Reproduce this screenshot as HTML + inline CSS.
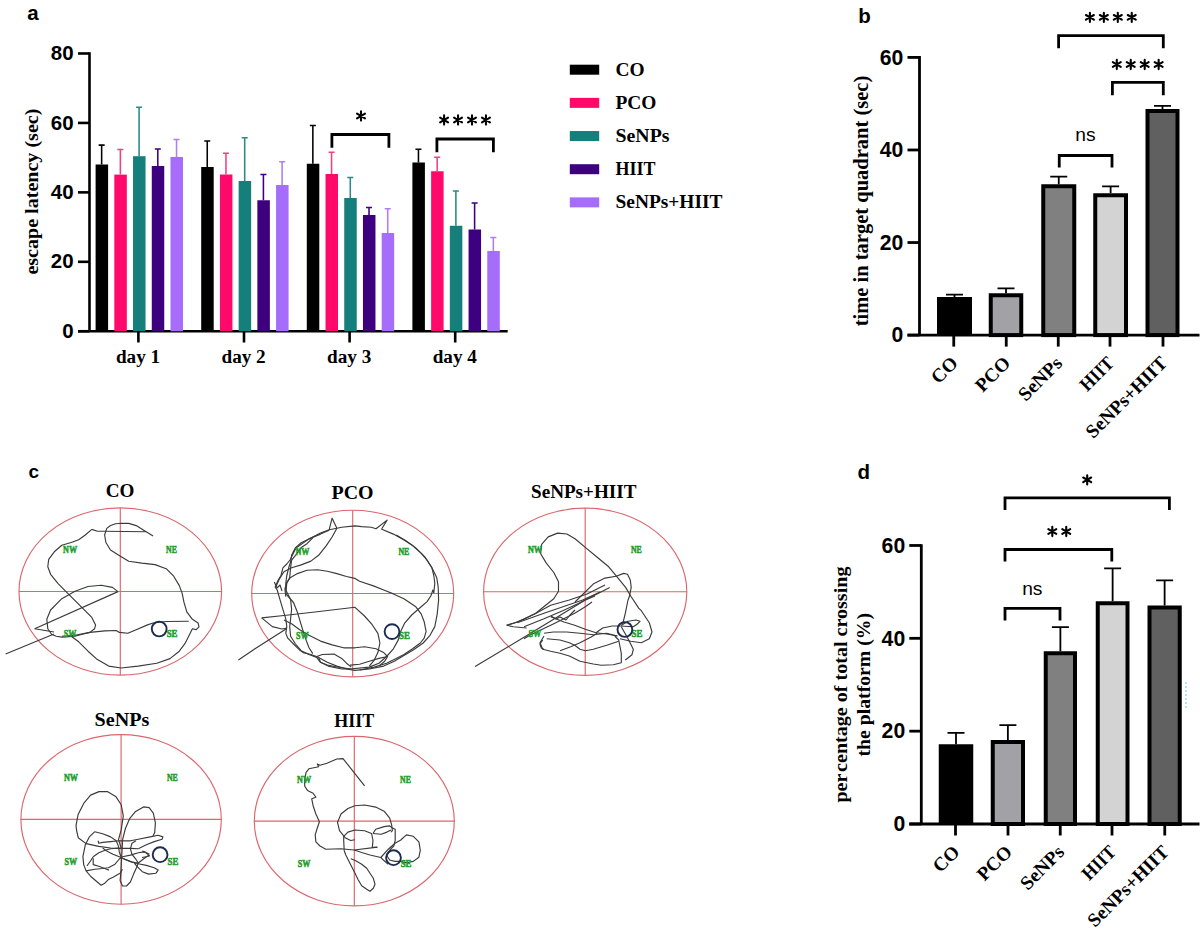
<!DOCTYPE html>
<html><head><meta charset="utf-8"><style>
html,body{margin:0;padding:0;background:#fff;}
svg{display:block;}
</style></head><body>
<svg width="1200" height="934" viewBox="0 0 1200 934">
<rect width="1200" height="934" fill="#fff"/>
<text x="27.3" y="19.7" font-family="Liberation Sans" font-weight="bold" font-size="20.5">a</text>
<text x="858.3" y="22.5" font-family="Liberation Sans" font-weight="bold" font-size="20.5">b</text>
<text x="28.5" y="477.7" font-family="Liberation Sans" font-weight="bold" font-size="19">c</text>
<text x="857.5" y="479.4" font-family="Liberation Sans" font-weight="bold" font-size="20.5">d</text>
<path d="M89.5,52.24000000000001 V331.25" stroke="#000" stroke-width="2.6" fill="none"/>
<path d="M78,331.25 H89.5" stroke="#000" stroke-width="2.6"/>
<text x="73.6" y="337.85" font-family="Liberation Sans" font-weight="bold" font-size="20.5" text-anchor="end">0</text>
<path d="M78,261.81 H89.5" stroke="#000" stroke-width="2.6"/>
<text x="73.6" y="268.41" font-family="Liberation Sans" font-weight="bold" font-size="20.5" text-anchor="end">20</text>
<path d="M78,192.37 H89.5" stroke="#000" stroke-width="2.6"/>
<text x="73.6" y="198.97" font-family="Liberation Sans" font-weight="bold" font-size="20.5" text-anchor="end">40</text>
<path d="M78,122.93 H89.5" stroke="#000" stroke-width="2.6"/>
<text x="73.6" y="129.53" font-family="Liberation Sans" font-weight="bold" font-size="20.5" text-anchor="end">60</text>
<path d="M78,53.49 H89.5" stroke="#000" stroke-width="2.6"/>
<text x="73.6" y="60.09" font-family="Liberation Sans" font-weight="bold" font-size="20.5" text-anchor="end">80</text>
<path d="M78,331.25 H507.7" stroke="#000" stroke-width="2.6"/>
<rect x="95.60" y="164.5" width="12.5" height="166.75" fill="#000000"/>
<path d="M101.65,164.5 V144.6 M98.65,145.1 H104.65" stroke="#000000" stroke-width="1.55" fill="none"/>
<rect x="114.32" y="174.6" width="12.5" height="156.65" fill="#FF0A6A"/>
<path d="M120.37,174.6 V149 M117.37,149.5 H123.37" stroke="#F0407F" stroke-width="1.55" fill="none"/>
<rect x="133.04" y="156.2" width="12.5" height="175.05" fill="#157F7C"/>
<path d="M139.09,156.2 V106.8 M136.09,107.3 H142.09" stroke="#2A8A87" stroke-width="1.55" fill="none"/>
<rect x="151.76" y="166" width="12.5" height="165.25" fill="#3D007E"/>
<path d="M157.81,166 V148.5 M154.81,149.0 H160.81" stroke="#3D007E" stroke-width="1.55" fill="none"/>
<rect x="170.48" y="157" width="12.5" height="174.25" fill="#A66CFA"/>
<path d="M176.53,157 V139 M173.53,139.5 H179.53" stroke="#B07CF8" stroke-width="1.55" fill="none"/>
<path d="M138.40,331.25 V342.5" stroke="#000" stroke-width="2.6"/>
<text x="138.00" y="362.7" font-family="Liberation Serif" font-weight="bold" font-size="19.2" text-anchor="middle">day 1</text>
<rect x="201.20" y="167" width="12.5" height="164.25" fill="#000000"/>
<path d="M207.25,167 V140.5 M204.25,141.0 H210.25" stroke="#000000" stroke-width="1.55" fill="none"/>
<rect x="219.92" y="174.5" width="12.5" height="156.75" fill="#FF0A6A"/>
<path d="M225.97,174.5 V152.75 M222.97,153.25 H228.97" stroke="#F0407F" stroke-width="1.55" fill="none"/>
<rect x="238.64" y="181" width="12.5" height="150.25" fill="#157F7C"/>
<path d="M244.69,181 V137.25 M241.69,137.75 H247.69" stroke="#2A8A87" stroke-width="1.55" fill="none"/>
<rect x="257.36" y="200.25" width="12.5" height="131.00" fill="#3D007E"/>
<path d="M263.41,200.25 V174 M260.41,174.5 H266.41" stroke="#3D007E" stroke-width="1.55" fill="none"/>
<rect x="276.08" y="185" width="12.5" height="146.25" fill="#A66CFA"/>
<path d="M282.13,185 V161.25 M279.13,161.75 H285.13" stroke="#B07CF8" stroke-width="1.55" fill="none"/>
<path d="M244.00,331.25 V342.5" stroke="#000" stroke-width="2.6"/>
<text x="243.60" y="362.7" font-family="Liberation Serif" font-weight="bold" font-size="19.2" text-anchor="middle">day 2</text>
<rect x="306.80" y="163.75" width="12.5" height="167.50" fill="#000000"/>
<path d="M312.85,163.75 V125 M309.85,125.5 H315.85" stroke="#000000" stroke-width="1.55" fill="none"/>
<rect x="325.52" y="174" width="12.5" height="157.25" fill="#FF0A6A"/>
<path d="M331.57,174 V151.75 M328.57,152.25 H334.57" stroke="#F0407F" stroke-width="1.55" fill="none"/>
<rect x="344.24" y="198" width="12.5" height="133.25" fill="#157F7C"/>
<path d="M350.29,198 V177 M347.29,177.5 H353.29" stroke="#2A8A87" stroke-width="1.55" fill="none"/>
<rect x="362.96" y="215" width="12.5" height="116.25" fill="#3D007E"/>
<path d="M369.01,215 V207 M366.01,207.5 H372.01" stroke="#3D007E" stroke-width="1.55" fill="none"/>
<rect x="381.68" y="233" width="12.5" height="98.25" fill="#A66CFA"/>
<path d="M387.73,233 V208.25 M384.73,208.75 H390.73" stroke="#B07CF8" stroke-width="1.55" fill="none"/>
<path d="M349.60,331.25 V342.5" stroke="#000" stroke-width="2.6"/>
<text x="349.20" y="362.7" font-family="Liberation Serif" font-weight="bold" font-size="19.2" text-anchor="middle">day 3</text>
<rect x="412.40" y="162.5" width="12.5" height="168.75" fill="#000000"/>
<path d="M418.45,162.5 V148.75 M415.45,149.25 H421.45" stroke="#000000" stroke-width="1.55" fill="none"/>
<rect x="431.12" y="171.25" width="12.5" height="160.00" fill="#FF0A6A"/>
<path d="M437.17,171.25 V156.75 M434.17,157.25 H440.17" stroke="#F0407F" stroke-width="1.55" fill="none"/>
<rect x="449.84" y="225.75" width="12.5" height="105.50" fill="#157F7C"/>
<path d="M455.89,225.75 V190.5 M452.89,191.0 H458.89" stroke="#2A8A87" stroke-width="1.55" fill="none"/>
<rect x="468.56" y="229.5" width="12.5" height="101.75" fill="#3D007E"/>
<path d="M474.61,229.5 V202.5 M471.61,203.0 H477.61" stroke="#3D007E" stroke-width="1.55" fill="none"/>
<rect x="487.28" y="251" width="12.5" height="80.25" fill="#A66CFA"/>
<path d="M493.33,251 V237 M490.33,237.5 H496.33" stroke="#B07CF8" stroke-width="1.55" fill="none"/>
<path d="M455.20,331.25 V342.5" stroke="#000" stroke-width="2.6"/>
<text x="454.80" y="362.7" font-family="Liberation Serif" font-weight="bold" font-size="19.2" text-anchor="middle">day 4</text>
<text transform="translate(37.8,191.6) rotate(-90)" font-family="Liberation Serif" font-weight="bold" font-size="18.3" text-anchor="middle" textLength="166" lengthAdjust="spacingAndGlyphs">escape latency (sec)</text>
<path d="M331.9,147.7 V134.5 H388.9 V147.7" stroke="#000" stroke-width="2.8" fill="none"/>
<path d="M361.00,111.40V120.60M357.02,113.70L364.98,118.30M357.02,118.30L364.98,113.70" stroke="#000" stroke-width="2.1" stroke-linecap="round" fill="none"/>
<path d="M436.9,152.2 V139 H493.4 V152.2" stroke="#000" stroke-width="2.8" fill="none"/>
<path d="M444.10,115.40V124.60M440.12,117.70L448.08,122.30M440.12,122.30L448.08,117.70M458.05,115.40V124.60M454.07,117.70L462.03,122.30M454.07,122.30L462.03,117.70M472.00,115.40V124.60M468.02,117.70L475.98,122.30M468.02,122.30L475.98,117.70M485.95,115.40V124.60M481.97,117.70L489.93,122.30M481.97,122.30L489.93,117.70" stroke="#000" stroke-width="2.1" stroke-linecap="round" fill="none"/>
<rect x="569.8" y="64.70" width="29.4" height="10" fill="#000000"/>
<text x="615.5" y="75.60" font-family="Liberation Serif" font-weight="bold" font-size="19.4">CO</text>
<rect x="569.8" y="97.87" width="29.4" height="10" fill="#FF0A6A"/>
<text x="615.5" y="108.77" font-family="Liberation Serif" font-weight="bold" font-size="19.4">PCO</text>
<rect x="569.8" y="131.04" width="29.4" height="10" fill="#157F7C"/>
<text x="615.5" y="141.94" font-family="Liberation Serif" font-weight="bold" font-size="19.4" textLength="54" lengthAdjust="spacingAndGlyphs">SeNPs</text>
<rect x="569.8" y="164.21" width="29.4" height="10" fill="#3D007E"/>
<text x="615.5" y="175.11" font-family="Liberation Serif" font-weight="bold" font-size="19.4" textLength="39.9" lengthAdjust="spacingAndGlyphs">HIIT</text>
<rect x="569.8" y="197.38" width="29.4" height="10" fill="#A66CFA"/>
<text x="615.5" y="208.28" font-family="Liberation Serif" font-weight="bold" font-size="19.4">SeNPs+HIIT</text>
<path d="M954.50,297 V293.75 M946.00,294.65 H963.00" stroke="#000" stroke-width="1.8" fill="none"/>
<rect x="937" y="297" width="35.00" height="38.10" fill="#000"/>
<path d="M1006.00,293.25 V287.5 M997.50,288.4 H1014.50" stroke="#000" stroke-width="1.8" fill="none"/>
<rect x="990.75" y="295.25" width="30.50" height="39.85" fill="#A1A1A6" stroke="#000" stroke-width="4"/>
<path d="M1058.75,184.25 V175.75 M1050.25,176.65 H1067.25" stroke="#000" stroke-width="1.8" fill="none"/>
<rect x="1043.25" y="186.25" width="31.00" height="148.85" fill="#808080" stroke="#000" stroke-width="4"/>
<path d="M1110.62,193.25 V185.5 M1102.12,186.4 H1119.12" stroke="#000" stroke-width="1.8" fill="none"/>
<rect x="1095.25" y="195.25" width="30.75" height="139.85" fill="#D3D3D3" stroke="#000" stroke-width="4"/>
<path d="M1162.50,109 V105 M1154.00,105.9 H1171.00" stroke="#000" stroke-width="1.8" fill="none"/>
<rect x="1147.50" y="111.00" width="30.00" height="224.10" fill="#606060" stroke="#000" stroke-width="4"/>
<path d="M919.5,56.12 V335.1" stroke="#000" stroke-width="2.8" fill="none"/>
<path d="M907.5,335.1 H1199.5" stroke="#000" stroke-width="2.8" fill="none"/>
<path d="M907.5,335.10 H919.5" stroke="#000" stroke-width="2.8"/>
<text x="903.40" y="342.30" font-family="Liberation Sans" font-weight="bold" font-size="21.2" text-anchor="end">0</text>
<path d="M907.5,242.54 H919.5" stroke="#000" stroke-width="2.8"/>
<text x="903.40" y="249.74" font-family="Liberation Sans" font-weight="bold" font-size="21.2" text-anchor="end">20</text>
<path d="M907.5,149.98 H919.5" stroke="#000" stroke-width="2.8"/>
<text x="903.40" y="157.18" font-family="Liberation Sans" font-weight="bold" font-size="21.2" text-anchor="end">40</text>
<path d="M907.5,57.42 H919.5" stroke="#000" stroke-width="2.8"/>
<text x="903.40" y="64.62" font-family="Liberation Sans" font-weight="bold" font-size="21.2" text-anchor="end">60</text>
<path d="M953.75,335.1 V346.6" stroke="#000" stroke-width="2.8"/>
<text transform="translate(958.95,364.3) rotate(-45)" font-family="Liberation Serif" font-weight="bold" font-size="19.2" text-anchor="end">CO</text>
<path d="M1006.25,335.1 V346.6" stroke="#000" stroke-width="2.8"/>
<text transform="translate(1011.45,364.3) rotate(-45)" font-family="Liberation Serif" font-weight="bold" font-size="19.2" text-anchor="end">PCO</text>
<path d="M1058.25,335.1 V346.6" stroke="#000" stroke-width="2.8"/>
<text transform="translate(1063.45,364.3) rotate(-45)" font-family="Liberation Serif" font-weight="bold" font-size="19.2" text-anchor="end" textLength="53.4" lengthAdjust="spacingAndGlyphs">SeNPs</text>
<path d="M1110,335.1 V346.6" stroke="#000" stroke-width="2.8"/>
<text transform="translate(1115.2,364.3) rotate(-45)" font-family="Liberation Serif" font-weight="bold" font-size="19.2" text-anchor="end" textLength="39.5" lengthAdjust="spacingAndGlyphs">HIIT</text>
<path d="M1163,335.1 V346.6" stroke="#000" stroke-width="2.8"/>
<text transform="translate(1168.2,364.3) rotate(-45)" font-family="Liberation Serif" font-weight="bold" font-size="19.2" text-anchor="end">SeNPs+HIIT</text>
<text transform="translate(868,201) rotate(-90)" font-family="Liberation Serif" font-weight="bold" font-size="20.5" text-anchor="middle">time in target quadrant (sec)</text>
<path d="M1058.6,48.2 V35.6 H1163.3 V48.2" stroke="#000" stroke-width="2.8" fill="none"/>
<path d="M1089.90,12.70V21.90M1085.92,15.00L1093.88,19.60M1085.92,19.60L1093.88,15.00M1103.85,12.70V21.90M1099.87,15.00L1107.83,19.60M1099.87,19.60L1107.83,15.00M1117.80,12.70V21.90M1113.82,15.00L1121.78,19.60M1113.82,19.60L1121.78,15.00M1131.75,12.70V21.90M1127.77,15.00L1135.73,19.60M1127.77,19.60L1135.73,15.00" stroke="#000" stroke-width="2.1" stroke-linecap="round" fill="none"/>
<path d="M1112.4,95.3 V82.4 H1163.3 V95.3" stroke="#000" stroke-width="2.8" fill="none"/>
<path d="M1116.80,59.90V69.10M1112.82,62.20L1120.78,66.80M1112.82,66.80L1120.78,62.20M1130.75,59.90V69.10M1126.77,62.20L1134.73,66.80M1126.77,66.80L1134.73,62.20M1144.70,59.90V69.10M1140.72,62.20L1148.68,66.80M1140.72,66.80L1148.68,62.20M1158.65,59.90V69.10M1154.67,62.20L1162.63,66.80M1154.67,66.80L1162.63,62.20" stroke="#000" stroke-width="2.1" stroke-linecap="round" fill="none"/>
<path d="M1059.25,167.5 V155.5 H1112 V167.5" stroke="#000" stroke-width="2.8" fill="none"/>
<text x="1085.5" y="141" font-family="Liberation Sans" font-size="19.2" text-anchor="middle">ns</text>
<path d="M956.00,744.25 V732 M947.50,732.9 H964.50" stroke="#000" stroke-width="1.8" fill="none"/>
<rect x="938.75" y="744.25" width="34.50" height="79.75" fill="#000"/>
<path d="M1007.88,740 V724.25 M999.38,725.15 H1016.38" stroke="#000" stroke-width="1.8" fill="none"/>
<rect x="992.75" y="742.00" width="30.25" height="82.00" fill="#A1A1A6" stroke="#000" stroke-width="4"/>
<path d="M1060.38,651.25 V626.25 M1051.88,627.15 H1068.88" stroke="#000" stroke-width="1.8" fill="none"/>
<rect x="1045.75" y="653.25" width="29.25" height="170.75" fill="#808080" stroke="#000" stroke-width="4"/>
<path d="M1112.62,601.25 V567.5 M1104.12,568.4 H1121.12" stroke="#000" stroke-width="1.8" fill="none"/>
<rect x="1097.75" y="603.25" width="29.75" height="220.75" fill="#D3D3D3" stroke="#000" stroke-width="4"/>
<path d="M1164.62,605.5 V579.5 M1156.12,580.4 H1173.12" stroke="#000" stroke-width="1.8" fill="none"/>
<rect x="1149.50" y="607.50" width="30.25" height="216.50" fill="#606060" stroke="#000" stroke-width="4"/>
<path d="M921.3,544.18 V824.0" stroke="#000" stroke-width="2.8" fill="none"/>
<path d="M909.3,824.0 H1199.5" stroke="#000" stroke-width="2.8" fill="none"/>
<path d="M909.3,824.00 H921.3" stroke="#000" stroke-width="2.8"/>
<text x="905.20" y="831.20" font-family="Liberation Sans" font-weight="bold" font-size="21.2" text-anchor="end">0</text>
<path d="M909.3,731.16 H921.3" stroke="#000" stroke-width="2.8"/>
<text x="905.20" y="738.36" font-family="Liberation Sans" font-weight="bold" font-size="21.2" text-anchor="end">20</text>
<path d="M909.3,638.32 H921.3" stroke="#000" stroke-width="2.8"/>
<text x="905.20" y="645.52" font-family="Liberation Sans" font-weight="bold" font-size="21.2" text-anchor="end">40</text>
<path d="M909.3,545.48 H921.3" stroke="#000" stroke-width="2.8"/>
<text x="905.20" y="552.68" font-family="Liberation Sans" font-weight="bold" font-size="21.2" text-anchor="end">60</text>
<path d="M955.5,824.0 V835.5" stroke="#000" stroke-width="2.8"/>
<text transform="translate(960.7,853.2) rotate(-45)" font-family="Liberation Serif" font-weight="bold" font-size="19.2" text-anchor="end">CO</text>
<path d="M1008,824.0 V835.5" stroke="#000" stroke-width="2.8"/>
<text transform="translate(1013.2,853.2) rotate(-45)" font-family="Liberation Serif" font-weight="bold" font-size="19.2" text-anchor="end">PCO</text>
<path d="M1060.25,824.0 V835.5" stroke="#000" stroke-width="2.8"/>
<text transform="translate(1065.45,853.2) rotate(-45)" font-family="Liberation Serif" font-weight="bold" font-size="19.2" text-anchor="end" textLength="53.4" lengthAdjust="spacingAndGlyphs">SeNPs</text>
<path d="M1112,824.0 V835.5" stroke="#000" stroke-width="2.8"/>
<text transform="translate(1117.2,853.2) rotate(-45)" font-family="Liberation Serif" font-weight="bold" font-size="19.2" text-anchor="end" textLength="39.5" lengthAdjust="spacingAndGlyphs">HIIT</text>
<path d="M1164.75,824.0 V835.5" stroke="#000" stroke-width="2.8"/>
<text transform="translate(1169.95,853.2) rotate(-45)" font-family="Liberation Serif" font-weight="bold" font-size="19.2" text-anchor="end">SeNPs+HIIT</text>
<text transform="translate(847.3,684.6) rotate(-90)" font-family="Liberation Serif" font-weight="bold" font-size="18.4" text-anchor="middle" textLength="236" lengthAdjust="spacingAndGlyphs">per&#8202;centage of total crossing</text>
<text transform="translate(870.2,684.7) rotate(-90)" font-family="Liberation Serif" font-weight="bold" font-size="19.8" text-anchor="middle" textLength="143.5" lengthAdjust="spacingAndGlyphs">the platform (%)</text>
<path d="M1005,509.9 V497.9 H1169.4 V509.9" stroke="#000" stroke-width="2.8" fill="none"/>
<path d="M1087.20,475.20V484.40M1083.22,477.50L1091.18,482.10M1083.22,482.10L1091.18,477.50" stroke="#000" stroke-width="2.1" stroke-linecap="round" fill="none"/>
<path d="M1005,561.5 V549.5 H1111.8 V561.5" stroke="#000" stroke-width="2.8" fill="none"/>
<path d="M1052.30,526.90V536.10M1048.32,529.20L1056.28,533.80M1048.32,533.80L1056.28,529.20M1066.25,526.90V536.10M1062.27,529.20L1070.23,533.80M1062.27,533.80L1070.23,529.20" stroke="#000" stroke-width="2.1" stroke-linecap="round" fill="none"/>
<path d="M1005,620.6 V608.4 H1060 V620.6" stroke="#000" stroke-width="2.8" fill="none"/>
<text x="1032.3" y="595.4" font-family="Liberation Sans" font-size="19.2" text-anchor="middle">ns</text>
<path d="M1186,682 V710" stroke="#4fd6e6" stroke-width="1" stroke-dasharray="2,2"/>
<ellipse cx="120.3" cy="591.5" rx="101.3" ry="83.6" fill="none" stroke="#DC666D" stroke-width="1.15"/>
<path d="M19.0,591.5 H221.6 M120.3,507.9 V675.1" stroke="#DC666D" stroke-width="1.15"/>
<path d="M5.6,654.0 L54.0,634.0" stroke="#3a3a3a" stroke-width="1.15" fill="none" stroke-linejoin="round"/>
<path d="M34.7,628.7 L118.0,591.6" stroke="#3a3a3a" stroke-width="1.15" fill="none" stroke-linejoin="round"/>
<path d="M34.7,628.7 L54.0,632.0" stroke="#3a3a3a" stroke-width="1.15" fill="none" stroke-linejoin="round"/>
<path d="M118.0,591.6 L112.4,587.4 L101.2,585.2 L88.0,586.5 L75.0,591.2 L61.8,598.7 L50.6,610.0 L46.8,619.3 L47.8,628.7 L51.5,634.3 L56.2,636.2 L61.8,637.1" stroke="#3a3a3a" stroke-width="1.15" fill="none" stroke-linejoin="round"/>
<path d="M91.8,529.4 L85.3,535.0 L78.7,539.7 L71.2,542.5 L61.8,545.3 L54.3,551.8 L48.7,559.3 L47.8,566.8 L50.6,574.3 L58.1,583.7 L67.5,593.1 L76.8,602.4 L84.3,609.9 L91.8,617.4 L95.6,624.9 L94.6,628.7 L89.9,632.4 L82.4,634.3 L74.9,636.2 L61.8,637.1" stroke="#3a3a3a" stroke-width="1.15" fill="none" stroke-linejoin="round"/>
<path d="M91.8,529.4 L97.4,531.2 L104.9,531.2 L145.6,531.8" stroke="#3a3a3a" stroke-width="1.15" fill="none" stroke-linejoin="round"/>
<path d="M153.1,535.9 L143.7,530.3 L136.2,525.6 L128.7,523.4 L121.2,523.2 L115.6,523.7 L110.5,525.5 L106.8,528.4 L104.6,535.0 L105.9,542.5 L110.5,550.0 L118.0,554.7 L128.7,561.2 L141.9,563.1 L155.0,564.6 L166.2,568.7 L173.7,576.2 L179.3,585.6 L182.1,593.1 L184.0,602.4 L186.8,611.8 L192.4,619.3 L198.1,623.0 L199.0,626.8 L196.2,629.6 L192.4,628.7 L188.7,636.2 L184.9,643.7 L179.3,651.2 L170.0,658.6 L156.8,663.3 L138.1,666.1 L121.2,668.0 L108.7,666.1 L97.4,659.6 L88.0,651.2 L78.7,641.8 L71.2,636.2" stroke="#3a3a3a" stroke-width="1.15" fill="none" stroke-linejoin="round"/>
<path d="M61.8,636.2 L74.9,635.2 L89.9,632.4 L104.9,630.9 L116.2,630.5 L119.4,632.4 L127.8,633.3 L134.4,630.5 L147.5,624.9 L153.1,623.0 L166.2,621.5 L188.7,621.2" stroke="#3a3a3a" stroke-width="1.15" fill="none" stroke-linejoin="round"/>
<text x="63.10" y="552.90" font-family="Liberation Serif" font-weight="bold" font-size="10" fill="#1E9E2A" stroke="#1E9E2A" stroke-width="0.55" textLength="14" lengthAdjust="spacingAndGlyphs">NW</text>
<text x="166.10" y="552.90" font-family="Liberation Serif" font-weight="bold" font-size="10" fill="#1E9E2A" stroke="#1E9E2A" stroke-width="0.55" textLength="10.8" lengthAdjust="spacingAndGlyphs">NE</text>
<text x="63.70" y="637.10" font-family="Liberation Serif" font-weight="bold" font-size="10" fill="#1E9E2A" stroke="#1E9E2A" stroke-width="0.55" textLength="12.6" lengthAdjust="spacingAndGlyphs">SW</text>
<text x="166.70" y="637.10" font-family="Liberation Serif" font-weight="bold" font-size="10" fill="#1E9E2A" stroke="#1E9E2A" stroke-width="0.55" textLength="10.8" lengthAdjust="spacingAndGlyphs">SE</text>
<text x="105.75" y="496.6" font-family="Liberation Serif" font-weight="bold" font-size="19.4" textLength="28.7" lengthAdjust="spacingAndGlyphs">CO</text>
<ellipse cx="352.7" cy="593.5" rx="101" ry="83.3" fill="none" stroke="#DC666D" stroke-width="1.15"/>
<path d="M251.7,593.5 H453.7 M352.7,510.2 V676.8" stroke="#DC666D" stroke-width="1.15"/>
<path d="M238.4,660.1 L255.0,648.8 L286.8,628.5" stroke="#3a3a3a" stroke-width="1.15" fill="none" stroke-linejoin="round"/>
<path d="M261.7,617.9 L272.3,626.6 L282.0,629.0 L286.8,628.1" stroke="#3a3a3a" stroke-width="1.15" fill="none" stroke-linejoin="round"/>
<path d="M261.7,617.9 L283.9,615.5 L312.8,612.2 L355.0,607.3 L364.5,616.0 L372.2,624.7 L377.9,633.4 L379.9,643.0 L377.9,652.6 L374.1,660.3 L369.3,666.1" stroke="#3a3a3a" stroke-width="1.15" fill="none" stroke-linejoin="round"/>
<path d="M329.2,529.7 L336.9,528.3 L341.7,527.3 L355.0,525.9 L361.6,526.6 L371.2,527.3 L376.0,528.8 L387.1,520.1 L381.8,528.8 L381.8,529.3 L393.4,534.1 L404.0,539.9 L412.6,545.6 L421.3,553.4 L427.1,560.1 L431.9,567.8 L433.8,575.5 L434.8,583.2 L433.8,592.9 L432.9,590.0 L430.9,595.8 L427.1,601.6 L419.4,608.3 L411.7,615.0 L404.9,622.8 L401.1,630.5 L398.2,640.1 L393.4,648.8 L386.6,656.5 L378.9,663.2 L369.3,667.1 L350.0,669.0 L341.7,669.0 L328.2,666.1 L320.5,662.3 L316.7,657.4 L309.0,654.5 L301.2,650.7 L295.5,644.0 L290.6,636.2 L289.7,626.6 L290.6,618.9 L291.6,609.3 L290.6,599.6 L285.8,590.0 L285.8,583.2 L286.8,575.5 L288.7,567.8 L290.6,562.0 L291.6,555.3 L295.5,547.6 L301.2,542.8 L310.9,537.9 L320.5,533.1 L329.2,529.7 L332.1,518.2 L336.9,528.3" stroke="#3a3a3a" stroke-width="1.15" fill="none" stroke-linejoin="round"/>
<path d="M396.2,535.0 L405.9,540.8 L415.5,547.6 L425.1,557.2 L431.9,567.8 L436.7,577.4 L438.2,587.1 L438.6,600.0 L437.2,614.1 L434.8,626.6 L430.0,635.3 L423.2,643.0 L413.6,649.7 L403.9,655.5 L394.3,661.3 L383.7,666.1 L369.3,669.0 L355.0,670.4 L346.5,669.0 L336.9,666.1 L327.3,662.3 L318.6,657.4 L310.9,654.5 L303.2,652.6 L299.3,649.7 L293.5,644.0 L287.8,638.2 L285.8,633.4 L286.8,626.6 L285.8,618.9 L282.9,609.3 L280.0,599.6 L277.2,590.0 L275.2,587.1 L278.1,580.3 L281.0,575.5 L282.9,567.8 L286.8,564.0 L290.0,560.0 L296.0,548.0 L309.0,538.9 L320.5,534.1 L329.2,530.2" stroke="#3a3a3a" stroke-width="1.15" fill="none" stroke-linejoin="round"/>
<path d="M336.9,528.3 L332.1,537.0 L326.3,545.6 L318.6,555.3 L310.9,561.1 L301.2,564.9 L291.6,567.8 L283.9,571.7 L279.1,579.4 L276.2,586.1" stroke="#3a3a3a" stroke-width="1.15" fill="none" stroke-linejoin="round"/>
<path d="M312.8,537.9 L307.0,543.7 L301.2,547.6 L295.5,555.3 L291.6,560.1 L290.6,567.8 L289.7,577.4 L286.8,583.2 L285.8,592.9 L286.8,594.8 L293.5,602.5 L297.4,612.2 L300.3,621.8 L303.2,631.4 L306.1,640.1 L309.0,647.8 L312.8,653.6" stroke="#3a3a3a" stroke-width="1.15" fill="none" stroke-linejoin="round"/>
<path d="M285.8,596.7 L284.9,589.0 L286.8,582.3 L290.6,577.4 L297.4,573.6 L307.0,570.2 L317.6,569.7 L327.3,571.2 L336.9,573.6 L346.5,576.5 L355.0,578.4 L359.6,581.3 L374.1,586.1 L383.7,590.0 L393.4,593.9 L403.9,598.7 L415.5,606.4 L421.3,614.1 L424.2,621.8 L426.1,631.4 L424.2,638.2 L420.3,643.0 L412.6,648.8 L403.9,654.5 L396.2,658.4 L386.6,663.2 L374.1,667.1 L359.6,670.0" stroke="#3a3a3a" stroke-width="1.15" fill="none" stroke-linejoin="round"/>
<path d="M283.9,619.9 L291.6,623.7 L299.3,629.5 L309.0,635.3 L320.5,641.1 L332.1,644.9 L343.6,647.8 L355.0,647.8 L364.5,646.8 L376.0,648.8 L383.7,652.6 L387.6,656.5 L384.7,661.3 L378.9,666.1" stroke="#3a3a3a" stroke-width="1.15" fill="none" stroke-linejoin="round"/>
<path d="M350.0,665.1 L359.6,664.2 L369.3,661.3 L378.9,658.4 L387.6,656.5" stroke="#3a3a3a" stroke-width="1.15" fill="none" stroke-linejoin="round"/>
<path d="M316.7,656.5 L322.4,654.5 L334.0,654.1 L341.7,658.4 L346.5,663.2 L351.3,667.1" stroke="#3a3a3a" stroke-width="1.15" fill="none" stroke-linejoin="round"/>
<path d="M318.6,657.4 L320.5,662.3 L327.3,665.0 L336.9,667.0 L351.3,669.0" stroke="#3a3a3a" stroke-width="1.15" fill="none" stroke-linejoin="round"/>
<path d="M274.3,582.0 L277.0,588.0 L280.0,585.0 L282.0,591.0" stroke="#3a3a3a" stroke-width="1.15" fill="none" stroke-linejoin="round"/>
<text x="295.50" y="554.90" font-family="Liberation Serif" font-weight="bold" font-size="10" fill="#1E9E2A" stroke="#1E9E2A" stroke-width="0.55" textLength="14" lengthAdjust="spacingAndGlyphs">NW</text>
<text x="398.50" y="554.90" font-family="Liberation Serif" font-weight="bold" font-size="10" fill="#1E9E2A" stroke="#1E9E2A" stroke-width="0.55" textLength="10.8" lengthAdjust="spacingAndGlyphs">NE</text>
<text x="296.10" y="639.10" font-family="Liberation Serif" font-weight="bold" font-size="10" fill="#1E9E2A" stroke="#1E9E2A" stroke-width="0.55" textLength="12.6" lengthAdjust="spacingAndGlyphs">SW</text>
<text x="399.10" y="639.10" font-family="Liberation Serif" font-weight="bold" font-size="10" fill="#1E9E2A" stroke="#1E9E2A" stroke-width="0.55" textLength="10.8" lengthAdjust="spacingAndGlyphs">SE</text>
<text x="331.50" y="498.6" font-family="Liberation Serif" font-weight="bold" font-size="19.4" textLength="42" lengthAdjust="spacingAndGlyphs">PCO</text>
<ellipse cx="585.2" cy="591.7" rx="101.6" ry="83.6" fill="none" stroke="#DC666D" stroke-width="1.15"/>
<path d="M483.6,591.7 H686.8000000000001 M585.2,508.1 V675.3000000000001" stroke="#DC666D" stroke-width="1.15"/>
<path d="M475.1,666.5 L525.7,636.2 L585.3,600.0 L609.7,587.4" stroke="#3a3a3a" stroke-width="1.15" fill="none" stroke-linejoin="round"/>
<path d="M506.7,625.3 L514.5,623.0 L523.8,619.3 L535.1,613.7 L544.4,606.2 L553.8,598.7 L558.5,591.2 L558.5,581.8 L553.8,572.5 L546.3,563.1 L540.7,553.7 L541.6,544.3 L548.2,536.9 L557.6,533.1 L566.9,534.0 L575.0,538.7 L586.2,548.1 L597.5,557.5 L608.7,566.8 L618.1,578.1 L625.6,587.4 L631.2,596.8 L638.7,608.1 L641.3,610.7 L649.3,622.7 L652.0,632.0 L649.3,638.7 L641.3,642.7 L630.7,641.3 L620.0,638.7" stroke="#3a3a3a" stroke-width="1.15" fill="none" stroke-linejoin="round"/>
<path d="M506.7,625.3 L517.3,622.0 L536.0,613.3 L550.7,605.3 L569.3,600.0 L587.0,594.0 L605.0,585.0" stroke="#3a3a3a" stroke-width="1.15" fill="none" stroke-linejoin="round"/>
<path d="M517.3,622.7 L544.0,613.3 L582.7,600.0 L600.0,592.0" stroke="#3a3a3a" stroke-width="1.15" fill="none" stroke-linejoin="round"/>
<path d="M524.0,626.7 L544.0,618.7 L562.7,610.7 L577.3,604.0 L585.3,600.0 L595.0,596.0" stroke="#3a3a3a" stroke-width="1.15" fill="none" stroke-linejoin="round"/>
<path d="M524.0,638.7 L530.7,634.7 L553.3,624.0 L574.7,613.3 L585.3,606.7 L592.0,602.0" stroke="#3a3a3a" stroke-width="1.15" fill="none" stroke-linejoin="round"/>
<path d="M506.7,625.3 L513.3,626.7 L526.7,628.0" stroke="#3a3a3a" stroke-width="1.15" fill="none" stroke-linejoin="round"/>
<path d="M575.0,602.0 L593.7,583.7 L605.0,578.1 L616.2,576.2 L623.7,573.4 L627.5,574.3 L630.3,580.0 L631.2,587.4 L629.3,596.8 L628.0,600.0 L625.3,613.3 L622.7,624.0" stroke="#3a3a3a" stroke-width="1.15" fill="none" stroke-linejoin="round"/>
<path d="M550.7,616.7 L564.0,622.0 L574.7,625.3 L585.3,629.3 L596.0,632.7 L606.7,634.0 L617.3,636.0" stroke="#3a3a3a" stroke-width="1.15" fill="none" stroke-linejoin="round"/>
<path d="M544.0,633.3 L553.3,632.0 L566.7,632.0 L580.0,633.3 L593.3,634.7 L606.7,633.3 L617.3,636.0" stroke="#3a3a3a" stroke-width="1.15" fill="none" stroke-linejoin="round"/>
<path d="M544.0,636.0 L540.0,642.7 L542.7,649.3 L550.7,651.3 L560.0,653.3 L569.3,656.0 L580.0,661.3 L593.3,664.0 L601.3,665.3 L613.3,664.7 L621.3,662.7 L621.3,653.3 L618.7,640.0 L614.7,636.0" stroke="#3a3a3a" stroke-width="1.15" fill="none" stroke-linejoin="round"/>
<path d="M546.7,638.7 L560.0,640.0 L569.3,642.7 L574.7,645.3 L580.0,649.3 L585.3,650.7 L593.3,649.3 L606.7,645.3 L618.7,641.3" stroke="#3a3a3a" stroke-width="1.15" fill="none" stroke-linejoin="round"/>
<path d="M560.0,650.7 L570.7,646.7 L580.0,642.7 L590.7,637.3 L597.3,633.3" stroke="#3a3a3a" stroke-width="1.15" fill="none" stroke-linejoin="round"/>
<path d="M596.0,632.7 L602.7,628.0 L612.0,626.0 L620.0,626.0 L633.3,626.7 L637.3,624.0 L640.0,621.3 L636.0,620.0 L628.0,621.3 L621.3,625.3" stroke="#3a3a3a" stroke-width="1.15" fill="none" stroke-linejoin="round"/>
<path d="M621.3,626.7 L628.0,638.7 L633.3,649.3 L632.0,654.7 L625.3,660.0" stroke="#3a3a3a" stroke-width="1.15" fill="none" stroke-linejoin="round"/>
<path d="M542.7,640.0 L540.0,644.0 L541.3,648.0 L544.0,649.3" stroke="#3a3a3a" stroke-width="1.15" fill="none" stroke-linejoin="round"/>
<path d="M551.0,616.0 L556.0,619.0 L560.0,617.0 L566.0,620.0 L570.0,615.0 L575.0,610.0" stroke="#3a3a3a" stroke-width="1.15" fill="none" stroke-linejoin="round"/>
<text x="528.00" y="553.10" font-family="Liberation Serif" font-weight="bold" font-size="10" fill="#1E9E2A" stroke="#1E9E2A" stroke-width="0.55" textLength="14" lengthAdjust="spacingAndGlyphs">NW</text>
<text x="631.00" y="553.10" font-family="Liberation Serif" font-weight="bold" font-size="10" fill="#1E9E2A" stroke="#1E9E2A" stroke-width="0.55" textLength="10.8" lengthAdjust="spacingAndGlyphs">NE</text>
<text x="528.60" y="637.30" font-family="Liberation Serif" font-weight="bold" font-size="10" fill="#1E9E2A" stroke="#1E9E2A" stroke-width="0.55" textLength="12.6" lengthAdjust="spacingAndGlyphs">SW</text>
<text x="631.60" y="637.30" font-family="Liberation Serif" font-weight="bold" font-size="10" fill="#1E9E2A" stroke="#1E9E2A" stroke-width="0.55" textLength="10.8" lengthAdjust="spacingAndGlyphs">SE</text>
<text x="531.00" y="498.3" font-family="Liberation Serif" font-weight="bold" font-size="19.4" textLength="105.5" lengthAdjust="spacingAndGlyphs">SeNPs+HIIT</text>
<ellipse cx="121.1" cy="819.4" rx="100.2" ry="84.8" fill="none" stroke="#DC666D" stroke-width="1.15"/>
<path d="M20.89999999999999,819.4 H221.3 M121.1,734.6 V904.1999999999999" stroke="#DC666D" stroke-width="1.15"/>
<path d="M121.2,848.0 L118.5,839.6 L121.2,829.9 L123.3,815.9 L121.2,804.8 L115.7,796.4 L107.3,791.6 L99.0,791.6 L90.6,795.1 L83.7,803.4 L78.1,814.5 L76.0,825.7 L76.7,831.0 L78.2,837.7 L86.1,843.6 L98.8,846.4 L110.6,848.0 L119.3,848.4 L130.4,848.4 L138.3,848.8" stroke="#3a3a3a" stroke-width="1.15" fill="none" stroke-linejoin="round"/>
<path d="M122.5,841.6 L122.6,839.6 L125.4,828.5 L129.6,818.7 L135.2,811.8 L143.5,806.9 L149.1,807.6 L153.3,813.2 L155.4,822.9 L154.7,832.6 L153.0,836.0" stroke="#3a3a3a" stroke-width="1.15" fill="none" stroke-linejoin="round"/>
<path d="M94.8,831.7 L89.3,836.9 L85.3,844.8 L82.9,856.7 L83.7,864.6 L86.1,870.9 L90.8,876.5 L96.4,881.2 L101.1,885.2 L104.3,883.6 L108.3,879.6 L113.0,877.3 L120.1,873.3 L122.5,869.3" stroke="#3a3a3a" stroke-width="1.15" fill="none" stroke-linejoin="round"/>
<path d="M94.8,831.7 L102.7,833.7 L110.6,836.9 L116.2,840.8 L118.5,846.4 L119.3,851.9 L120.9,856.7" stroke="#3a3a3a" stroke-width="1.15" fill="none" stroke-linejoin="round"/>
<path d="M98.0,840.8 L98.8,843.2 L102.7,842.4 L110.6,841.6 L119.3,840.8 L130.4,840.8 L138.3,839.3 L150.2,836.9 L158.1,835.3 L162.9,836.9 L162.1,839.3 L154.2,841.6 L146.3,844.8 L138.3,848.8" stroke="#3a3a3a" stroke-width="1.15" fill="none" stroke-linejoin="round"/>
<path d="M122.5,841.6 L121.7,856.7 L120.9,872.5 L120.1,880.4 L122.5,886.0 L126.5,886.0 L130.4,882.0 L133.6,874.1 L136.8,867.0 L138.3,863.0 L135.2,858.3 L132.0,854.3 L130.4,848.8 L132.0,843.2 L136.0,840.8" stroke="#3a3a3a" stroke-width="1.15" fill="none" stroke-linejoin="round"/>
<path d="M122.5,858.3 L130.4,861.4 L138.3,863.8 L146.3,865.4 L154.2,867.8 L158.1,870.1 L155.8,873.3 L148.6,874.1 L142.3,871.7 L136.8,866.2 L133.6,862.2" stroke="#3a3a3a" stroke-width="1.15" fill="none" stroke-linejoin="round"/>
<path d="M93.2,856.7 L98.8,852.7 L105.1,850.3 L110.6,848.8 L119.3,848.0" stroke="#3a3a3a" stroke-width="1.15" fill="none" stroke-linejoin="round"/>
<path d="M86.1,870.9 L94.8,869.3 L102.7,868.5 L108.3,867.8 L114.6,864.6 L119.3,859.0 L122.5,856.7 L130.4,855.1 L138.3,852.7 L144.7,851.9 L149.4,854.3" stroke="#3a3a3a" stroke-width="1.15" fill="none" stroke-linejoin="round"/>
<path d="M93.2,858.3 L93.2,864.6 L98.8,866.2 L106.7,869.3 L109.0,870.1" stroke="#3a3a3a" stroke-width="1.15" fill="none" stroke-linejoin="round"/>
<path d="M102.7,848.0 L106.7,851.1 L113.0,854.3 L119.3,856.7 L125.7,859.8 L132.0,862.2 L138.3,863.0 L146.3,856.7 L149.4,855.1" stroke="#3a3a3a" stroke-width="1.15" fill="none" stroke-linejoin="round"/>
<path d="M86.9,866.0 L90.8,860.5 L93.2,856.7" stroke="#3a3a3a" stroke-width="1.15" fill="none" stroke-linejoin="round"/>
<path d="M142.3,851.1 L144.7,851.9 L147.8,854.3 L149.4,855.9 L146.3,856.7 L142.0,857.5" stroke="#3a3a3a" stroke-width="1.15" fill="none" stroke-linejoin="round"/>
<text x="63.90" y="780.80" font-family="Liberation Serif" font-weight="bold" font-size="10" fill="#1E9E2A" stroke="#1E9E2A" stroke-width="0.55" textLength="14" lengthAdjust="spacingAndGlyphs">NW</text>
<text x="166.90" y="780.80" font-family="Liberation Serif" font-weight="bold" font-size="10" fill="#1E9E2A" stroke="#1E9E2A" stroke-width="0.55" textLength="10.8" lengthAdjust="spacingAndGlyphs">NE</text>
<text x="64.50" y="865.00" font-family="Liberation Serif" font-weight="bold" font-size="10" fill="#1E9E2A" stroke="#1E9E2A" stroke-width="0.55" textLength="12.6" lengthAdjust="spacingAndGlyphs">SW</text>
<text x="167.50" y="865.00" font-family="Liberation Serif" font-weight="bold" font-size="10" fill="#1E9E2A" stroke="#1E9E2A" stroke-width="0.55" textLength="10.8" lengthAdjust="spacingAndGlyphs">SE</text>
<text x="94.60" y="725.9" font-family="Liberation Serif" font-weight="bold" font-size="19.4" textLength="54.7" lengthAdjust="spacingAndGlyphs">SeNPs</text>
<ellipse cx="354.3" cy="821.1" rx="100" ry="84.8" fill="none" stroke="#DC666D" stroke-width="1.15"/>
<path d="M254.3,821.1 H454.3 M354.3,736.3000000000001 V905.9" stroke="#DC666D" stroke-width="1.15"/>
<path d="M364.6,785.9 L343.0,758.6 L336.8,759.0 L327.0,763.2 L320.0,765.3 L317.3,763.9 L318.7,766.7 L308.9,768.8 L306.1,772.3 L304.7,779.2 L304.7,786.2 L307.5,790.4 L313.1,793.2 L315.9,797.3 L311.7,798.7 L313.1,805.7 L315.9,814.0 L319.4,821.7 L317.3,828.0 L315.2,834.9 L315.9,841.9 L320.0,846.0 L325.8,849.2 L340.8,848.8 L354.2,850.0 L361.7,852.5 L370.0,855.0 L380.8,857.5 L384.2,860.8 L388.3,864.2" stroke="#3a3a3a" stroke-width="1.15" fill="none" stroke-linejoin="round"/>
<path d="M354.2,850.0 L377.5,847.1" stroke="#3a3a3a" stroke-width="1.15" fill="none" stroke-linejoin="round"/>
<path d="M380.8,857.5 L388.3,849.2 L395.0,843.3 L400.8,840.0 L406.4,834.9 L413.3,836.3 L418.9,841.9 L420.3,850.2 L418.9,857.2 L413.3,861.4 L406.4,862.8 L400.8,861.4 L395.2,861.4 L389.2,860.0" stroke="#3a3a3a" stroke-width="1.15" fill="none" stroke-linejoin="round"/>
<path d="M391.0,832.1 L392.4,830.7 L391.7,825.2 L389.7,818.2 L384.1,811.2 L375.7,807.1 L364.6,805.0 L354.9,805.7 L347.9,808.5 L341.0,814.0 L337.5,822.4 L339.5,830.7 L345.1,837.7 L350.7,840.5 L354.9,839.8" stroke="#3a3a3a" stroke-width="1.15" fill="none" stroke-linejoin="round"/>
<path d="M344.2,850.8 L343.7,840.5 L343.7,836.3 L347.9,832.1 L354.9,830.0 L364.6,830.7 L371.6,833.5 L373.0,840.5 L372.3,847.4 L377.1,847.4" stroke="#3a3a3a" stroke-width="1.15" fill="none" stroke-linejoin="round"/>
<path d="M373.0,833.5 L375.7,829.3 L384.1,826.6 L389.7,825.9 L392.4,828.0 L395.2,829.3 L395.2,840.5 L393.8,846.0 L389.7,850.2 L386.9,855.8 L389.7,860.0" stroke="#3a3a3a" stroke-width="1.15" fill="none" stroke-linejoin="round"/>
<path d="M373.0,833.5 L381.3,834.2 L386.9,832.1 L391.0,830.0" stroke="#3a3a3a" stroke-width="1.15" fill="none" stroke-linejoin="round"/>
<path d="M344.2,850.8 L345.8,855.0 L348.3,860.0 L351.7,866.7 L355.0,873.3 L358.3,880.0 L361.7,885.8 L366.7,889.2 L370.0,891.3 L373.3,888.3 L375.0,884.2 L373.3,878.3 L370.0,873.3 L366.7,868.3 L361.7,864.2 L355.8,860.8 L350.8,858.8" stroke="#3a3a3a" stroke-width="1.15" fill="none" stroke-linejoin="round"/>
<text x="297.10" y="782.50" font-family="Liberation Serif" font-weight="bold" font-size="10" fill="#1E9E2A" stroke="#1E9E2A" stroke-width="0.55" textLength="14" lengthAdjust="spacingAndGlyphs">NW</text>
<text x="400.10" y="782.50" font-family="Liberation Serif" font-weight="bold" font-size="10" fill="#1E9E2A" stroke="#1E9E2A" stroke-width="0.55" textLength="10.8" lengthAdjust="spacingAndGlyphs">NE</text>
<text x="297.70" y="866.70" font-family="Liberation Serif" font-weight="bold" font-size="10" fill="#1E9E2A" stroke="#1E9E2A" stroke-width="0.55" textLength="12.6" lengthAdjust="spacingAndGlyphs">SW</text>
<text x="400.70" y="866.70" font-family="Liberation Serif" font-weight="bold" font-size="10" fill="#1E9E2A" stroke="#1E9E2A" stroke-width="0.55" textLength="10.8" lengthAdjust="spacingAndGlyphs">SE</text>
<text x="334.25" y="726.6" font-family="Liberation Serif" font-weight="bold" font-size="19.4" textLength="40" lengthAdjust="spacingAndGlyphs">HIIT</text>
<circle cx="159.2" cy="629.0" r="7.4" fill="none" stroke="#1C2B50" stroke-width="1.9"/>
<circle cx="392" cy="631.6" r="7.4" fill="none" stroke="#1C2B50" stroke-width="1.9"/>
<circle cx="624.9" cy="629.5" r="7.4" fill="none" stroke="#1C2B50" stroke-width="1.9"/>
<circle cx="160.1" cy="854.7" r="7.4" fill="none" stroke="#1C2B50" stroke-width="1.9"/>
<circle cx="393.5" cy="857.7" r="7.4" fill="none" stroke="#1C2B50" stroke-width="1.9"/>
</svg>
</body></html>
